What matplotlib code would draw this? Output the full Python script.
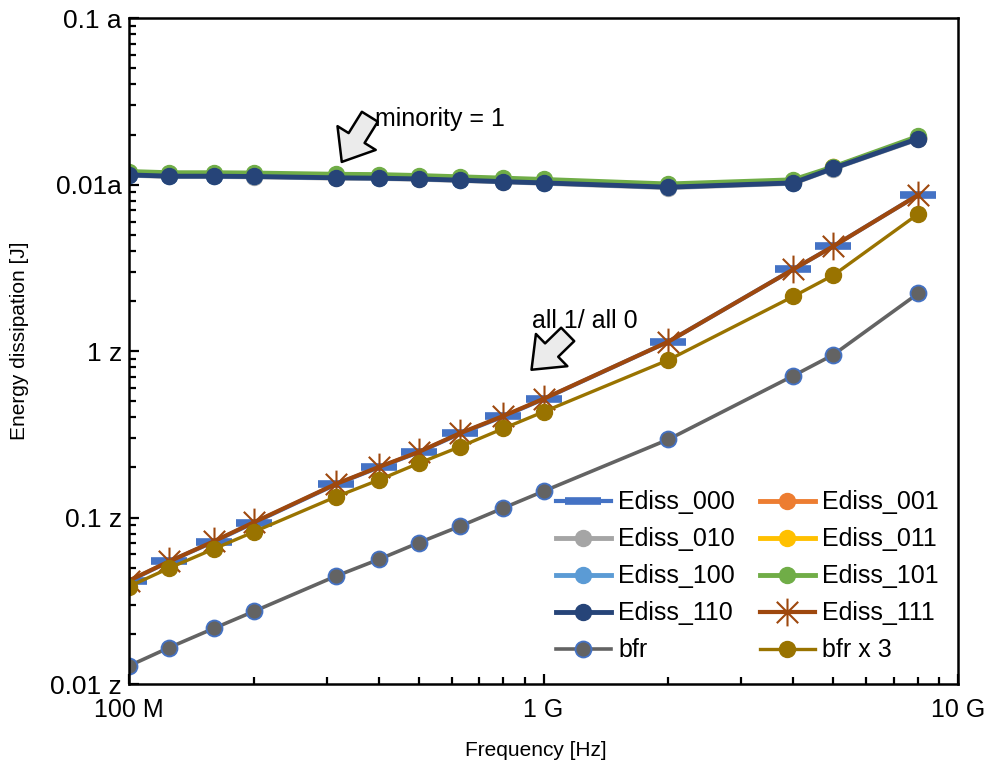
import numpy as np
import matplotlib.pyplot as plt
from matplotlib.path import Path

plt.rcParams['font.family'] = ['Liberation Sans', 'DejaVu Sans']

# frequency points [Hz]
freq = [1.0e8, 1.25e8, 1.6e8, 2.0e8, 3.15e8, 4.0e8, 5.0e8, 6.3e8, 8.0e8,
        1.0e9, 2.0e9, 4.0e9, 5.0e9, 8.0e9]

# energy dissipation [J]
ediss_000 = [4.15e-23, 5.45e-23, 7.15e-23, 9.3e-23, 1.58e-22, 2.0e-22, 2.47e-22,
             3.2e-22, 4.05e-22, 5.15e-22, 1.14e-21, 3.1e-21, 4.27e-21, 8.67e-21]
ediss_001 = [1.16e-20, 1.14e-20, 1.14e-20, 1.135e-20, 1.115e-20, 1.11e-20, 1.10e-20,
             1.08e-20, 1.06e-20, 1.04e-20, 0.98e-20, 1.04e-20, 1.27e-20, 1.91e-20]
ediss_010 = [1.14e-20, 1.12e-20, 1.12e-20, 1.115e-20, 1.095e-20, 1.09e-20, 1.078e-20,
             1.06e-20, 1.04e-20, 1.02e-20, 0.96e-20, 1.02e-20, 1.25e-20, 1.88e-20]
ediss_011 = [1.17e-20, 1.15e-20, 1.15e-20, 1.145e-20, 1.125e-20, 1.12e-20, 1.11e-20,
             1.09e-20, 1.07e-20, 1.05e-20, 0.99e-20, 1.05e-20, 1.27e-20, 1.92e-20]
ediss_100 = [1.15e-20, 1.13e-20, 1.13e-20, 1.125e-20, 1.105e-20, 1.10e-20, 1.09e-20,
             1.07e-20, 1.05e-20, 1.03e-20, 0.97e-20, 1.03e-20, 1.26e-20, 1.90e-20]
ediss_101 = [1.20e-20, 1.18e-20, 1.18e-20, 1.175e-20, 1.155e-20, 1.15e-20, 1.135e-20,
             1.115e-20, 1.095e-20, 1.075e-20, 1.01e-20, 1.07e-20, 1.28e-20, 1.95e-20]
ediss_110 = [1.145e-20, 1.125e-20, 1.125e-20, 1.12e-20, 1.10e-20, 1.094e-20, 1.083e-20,
             1.064e-20, 1.043e-20, 1.025e-20, 0.966e-20, 1.025e-20, 1.256e-20, 1.89e-20]
ediss_111 = [4.18e-23, 5.45e-23, 7.19e-23, 9.36e-23, 1.588e-22, 2.01e-22, 2.48e-22,
             3.22e-22, 4.08e-22, 5.17e-22, 1.14e-21, 3.10e-21, 4.27e-21, 8.67e-21]
bfr = [1.284e-23, 1.655e-23, 2.156e-23, 2.73e-23, 4.44e-23, 5.60e-23, 7.06e-23,
       8.89e-23, 1.142e-22, 1.44e-22, 2.95e-22, 7.11e-22, 9.52e-22, 2.22e-21]
bfr_x3 = [3.85e-23, 4.97e-23, 6.47e-23, 8.2e-23, 1.33e-22, 1.68e-22, 2.12e-22,
          2.67e-22, 3.43e-22, 4.32e-22, 8.85e-22, 2.13e-21, 2.86e-21, 6.66e-21]

x_ticks = [1e8, 1e9, 1e10]
x_labels = ['100 M', '1 G', '10 G']
y_ticks = [1e-23, 1e-22, 1e-21, 1e-20, 1e-19]
y_labels = ['0.01 z', '0.1 z', '1 z', '0.01a', '0.1 a']

# excel-like asterisk marker
star = Path([(-1, -1), (1, 1), (-1, 1), (1, -1), (0, -1.3), (0, 1.3)],
            [Path.MOVETO, Path.LINETO] * 3)

fig = plt.figure(figsize=(9.92, 7.6), dpi=100)
ax = fig.add_axes([0.130, 0.100, 0.836, 0.876])

h = []
h += ax.plot(freq, ediss_000, color='#4472C4', lw=3, marker='_', ms=26, mew=5.5,
             label='Ediss_000')
h += ax.plot(freq, ediss_001, color='#ED7D31', lw=3.5, marker='o', ms=11.5,
             label='Ediss_001')
h += ax.plot(freq, ediss_010, color='#A5A5A5', lw=3.5, marker='o', ms=11.5,
             label='Ediss_010')
h += ax.plot(freq, ediss_011, color='#FFC000', lw=3.5, marker='o', ms=11.5,
             label='Ediss_011')
h += ax.plot(freq, ediss_100, color='#5B9BD5', lw=3.5, marker='o', ms=11.5,
             label='Ediss_100')
h += ax.plot(freq, ediss_101, color='#70AD47', lw=3.5, marker='o', ms=11.5,
             label='Ediss_101')
h += ax.plot(freq, ediss_110, color='#264478', lw=3.5, marker='o', ms=11.5,
             label='Ediss_110')
h += ax.plot(freq, ediss_111, color='#9E480E', lw=3, marker=star, ms=20, mew=1.5,
             label='Ediss_111')
h += ax.plot(freq, bfr, color='#636363', lw=2.6, marker='o', ms=11.5,
             mfc='#636363', mec='#4472C4', mew=1.3, label='bfr')
h += ax.plot(freq, bfr_x3, color='#997300', lw=2.4, marker='o', ms=11.5,
             label='bfr x 3')

ax.set_xscale('log')
ax.set_yscale('log')
ax.set_xlim(1e8, 1e10)
ax.set_ylim(1e-23, 1e-19)

ax.set_xticks(x_ticks)
ax.set_xticklabels(x_labels)
ax.set_yticks(y_ticks)
ax.set_yticklabels(y_labels)

ax.tick_params(which='both', direction='in', top=False, right=False,
               width=1.6, labelsize=18)
ax.tick_params(axis='y', labelsize=19)
ax.tick_params(which='major', length=7)
ax.tick_params(which='minor', length=5)
ax.tick_params(axis='x', pad=10)
ax.tick_params(axis='y', pad=5)
for s in ax.spines.values():
    s.set_linewidth(1.8)

ax.set_xlabel('Frequency [Hz]', fontsize=15)
ax.xaxis.set_label_coords(0.49, -0.085)
ax.set_ylabel('Energy dissipation [J]', fontsize=15)
ax.yaxis.set_label_coords(-0.12, 0.515)

arrow = dict(arrowstyle='simple,head_width=1.2,head_length=0.75,tail_width=0.5',
             fc='#EBEBEB', ec='black', lw=1.8, mutation_scale=27,
             shrinkA=0, shrinkB=0)
ax.annotate('', xy=(3.26e8, 1.37e-20), xytext=(3.81e8, 2.56e-20),
            arrowprops=arrow)
ax.text(3.92e8, 2.49e-20, 'minority = 1', fontsize=18, ha='left', va='center')
ax.annotate('', xy=(9.35e8, 7.73e-22), xytext=(1.143e9, 1.26e-21),
            arrowprops=arrow)
ax.text(9.35e8, 1.51e-21, 'all 1/ all 0', fontsize=18, ha='left', va='center')

# excel fills the legend row by row
order = [0, 2, 4, 6, 8, 1, 3, 5, 7, 9]
ax.legend([h[i] for i in order], [h[i].get_label() for i in order],
          ncol=2, loc='lower right', bbox_to_anchor=(0.995, 0.01),
          frameon=False, fontsize=18, handlelength=2.2, handletextpad=0.3,
          columnspacing=1.0, labelspacing=0.52, borderaxespad=0.2)

fig.savefig('out.png', dpi=100)
